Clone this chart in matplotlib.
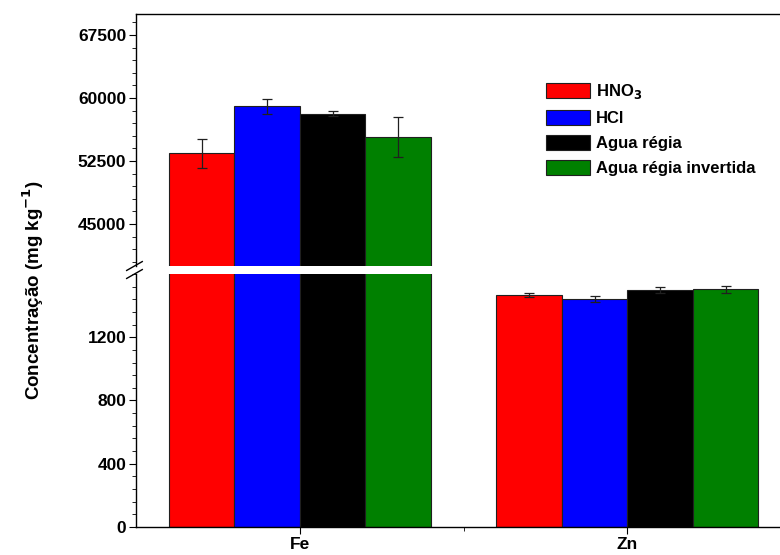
import matplotlib
matplotlib.use("Agg")
import matplotlib.pyplot as plt
import numpy as np
from matplotlib.ticker import MultipleLocator, FixedLocator

plt.rcParams["font.family"] = ["Liberation Sans", "DejaVu Sans"]
plt.rcParams["font.weight"] = "bold"
plt.rcParams["mathtext.default"] = "bf"

# data
elements = ["Fe", "Zn"]
methods = ["HNO$_3$", "HCl", "Agua régia", "Agua régia invertida"]
colors = ["#ff0000", "#0000ff", "#000000", "#008000"]
values = {
    "HNO$_3$": [53400, 1469],
    "HCl": [59030, 1443],
    "Agua régia": [58150, 1500],
    "Agua régia invertida": [55370, 1502],
}
errors = {
    "HNO$_3$": [1750, 13],
    "HCl": [900, 19],
    "Agua régia": [350, 19],
    "Agua régia invertida": [2390, 24],
}

fig = plt.figure(figsize=(7.8, 5.55), dpi=100)
left, width = 0.1744, 0.8397
ax_top = fig.add_axes([left, 0.5207, width, 0.4541])
ax_bot = fig.add_axes([left, 0.0505, width, 0.4558])

x = np.arange(1, len(elements) + 1)
bw = 0.2
for ax in (ax_top, ax_bot):
    for i, m in enumerate(methods):
        pos = x + (i - 1.5) * bw
        ax.bar(pos, values[m], bw, color=colors[i], edgecolor="#202020",
               linewidth=0.8, label=m)
        ax.errorbar(pos, values[m], yerr=errors[m], fmt="none", ecolor="#202020",
                    elinewidth=0.9, capsize=3.5, capthick=0.9)
    ax.set_xlim(0.5, 2.5)
    ax.spines["right"].set_visible(False)
    for s in ax.spines.values():
        s.set_linewidth(1.0)
    ax.tick_params(axis="both", which="both", direction="out", labelsize=12.5, pad=2)
    ax.tick_params(which="major", length=5)
    ax.tick_params(which="minor", length=3)

ax_top.set_ylim(40000, 70000)
ax_top.yaxis.set_major_locator(FixedLocator([45000, 52500, 60000, 67500]))
ax_top.yaxis.set_minor_locator(MultipleLocator(1500))
ax_top.spines["bottom"].set_visible(False)
ax_top.tick_params(axis="x", which="both", bottom=False, labelbottom=False)

ax_bot.set_ylim(0, 1600)
ax_bot.yaxis.set_major_locator(FixedLocator([0, 400, 800, 1200]))
ax_bot.yaxis.set_minor_locator(MultipleLocator(80))
ax_bot.spines["top"].set_visible(False)
ax_bot.set_xticks(x)
ax_bot.set_xticklabels(elements)
ax_bot.xaxis.set_minor_locator(FixedLocator([1.5]))

for lab in ax_top.get_yticklabels() + ax_bot.get_yticklabels() + ax_bot.get_xticklabels():
    lab.set_fontweight("bold")

# break marks on the left spine
bx = left - 0.002
for dy in (0.5207, 0.5063):
    fig.add_artist(plt.Line2D([bx - 0.010, bx + 0.010], [dy - 0.008, dy + 0.008],
                              color="black", linewidth=1.0, transform=fig.transFigure))

fig.text(0.042, 0.478, "Concentração (mg kg$^{-1}$)", rotation=90,
         ha="center", va="center", fontsize=13.5, fontweight="bold")

handles, labels = ax_top.get_legend_handles_labels()
leg = fig.legend(handles[:4], labels[:4], loc="upper left",
                 bbox_to_anchor=(0.681, 0.879), frameon=False,
                 prop={"weight": "bold", "size": 12},
                 handlelength=2.6, handleheight=0.95, labelspacing=0.55,
                 handletextpad=0.4)

fig.savefig("out.png", dpi=100)
